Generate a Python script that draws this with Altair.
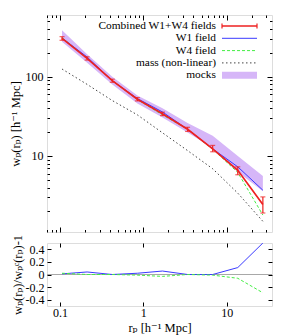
import altair as alt
import pandas as pd

FONT = "'Liberation Serif', 'Times New Roman', Times, 'DejaVu Serif', serif"

# ---------------- data ----------------
rp = [0.106, 0.212, 0.425, 0.85, 1.7, 3.4, 6.8, 13.6, 27.2]
combined = [304, 170, 89, 52, 34, 21.7, 12.3, 6.6, 2.45]
combined_lo = [288, 162, 85, 49.5, 32.3, 20.4, 11.3, 5.8, 1.91]
combined_hi = [320, 178, 93, 54.5, 35.7, 23.0, 13.6, 7.3, 3.05]
w1_field = [308, 177, 89, 53, 35.9, 21.7, 12.3, 7.3, 3.7]
w4_field = [310, 170, 89, 51.5, 33, 21.7, 12.2, 6.2, 1.8]
mass_nl = [125, 80, 50, 33, 19.6, 11.7, 6.9, 3.4, 1.5]
mocks_lo = [275, 150, 80, 46, 30.5, 19.8, 12.6, 6.3, 3.6]
mocks_hi = [385, 192, 100, 58, 40, 26, 18, 10, 5.6]
ratio_w1 = [0.01, 0.04, 0.0, 0.02, 0.055, 0.0, 0.0, 0.11, 0.5]
ratio_w4 = [0.02, 0.0, 0.0, -0.01, -0.03, 0.0, -0.01, -0.06, -0.29]

legend_labels = ["Combined W1+W4 fields", "W1 field", "W4 field",
                 "mass (non-linear)", "mocks"]

x_major = [0.1, 1, 10]
x_minor = [0.07, 0.08, 0.09, 0.2, 0.3, 0.4, 0.5, 0.6, 0.7, 0.8, 0.9,
           2, 3, 4, 5, 6, 7, 8, 9, 20, 30]
y_major = [10, 100]
y_minor = [2, 3, 4, 5, 6, 7, 8, 9, 20, 30, 40, 50, 60, 70, 80, 90,
           200, 300, 400, 500]
r_major = [-0.4, -0.2, 0, 0.2, 0.4]

df = pd.DataFrame(dict(rp=rp, comb=combined, lo=combined_lo, hi=combined_hi,
                       w1=w1_field, w4=w4_field, mass=mass_nl,
                       mlo=mocks_lo, mhi=mocks_hi,
                       rw1=ratio_w1, rw4=ratio_w4))

RED = "#ee2020"
BLUE = "#3a3aff"
GREEN = "#44ee44"
PURPLE = "#d6b6f8"
DOT = "#444444"

xs = alt.Scale(type="log", domain=[0.07, 35])
ys = alt.Scale(type="log", domain=[1.1, 600])
rs = alt.Scale(domain=[-0.5, 0.5], nice=False, zero=False)

MAJ = 5
MIN = 2.5


def ax(orient, values, size, labels=False, title=None, **kw):
    return alt.Axis(orient=orient, values=values, tickSize=size, offset=-size,
                    domain=False, grid=False, labels=labels, title=title,
                    ticks=True, tickColor="black", tickWidth=1,
                    labelFont=FONT, labelFontSize=12, labelColor="black",
                    labelOverlap=False, labelFlush=False,
                    titleFont=FONT, titleFontSize=12.5, titleColor="black",
                    titleFontWeight="normal", **kw)


base = alt.Chart(df)

# ---------------- top panel ----------------
band = base.mark_area(color=PURPLE, opacity=1, clip=True).encode(
    x=alt.X("rp:Q", scale=xs, axis=ax("bottom", x_major, MAJ)),
    y=alt.Y("mlo:Q", scale=ys,
            axis=ax("left", y_major, MAJ, labels=True,
                    title="wₚ(rₚ)   [h⁻¹ Mpc]", labelPadding=4, titlePadding=3)),
    y2="mhi:Q",
)
mass_line = base.mark_line(color=DOT, strokeWidth=1, strokeDash=[1.5, 2.5],
                           clip=True).encode(
    x=alt.X("rp:Q", scale=xs, axis=ax("bottom", x_minor, MIN)),
    y=alt.Y("mass:Q", scale=ys, axis=ax("left", y_minor, MIN)),
)
w1_line = base.mark_line(color=BLUE, strokeWidth=1, clip=True).encode(
    x=alt.X("rp:Q", scale=xs, axis=ax("top", x_major, MAJ)),
    y=alt.Y("w1:Q", scale=ys, axis=ax("right", y_major, MAJ)),
)
w4_line = base.mark_line(color=GREEN, strokeWidth=1, strokeDash=[3, 2],
                         clip=True).encode(
    x=alt.X("rp:Q", scale=xs, axis=ax("top", x_minor, MIN)),
    y=alt.Y("w4:Q", scale=ys, axis=ax("right", y_minor, MIN)),
)
comb_line = base.mark_line(color=RED, strokeWidth=1.7, clip=True).encode(
    x=alt.X("rp:Q", scale=xs, axis=None),
    y=alt.Y("comb:Q", scale=ys, axis=None),
)
err_bar = base.mark_rule(color=RED, strokeWidth=1.2, clip=True).encode(
    x=alt.X("rp:Q", scale=xs, axis=None),
    y=alt.Y("lo:Q", scale=ys, axis=None),
    y2="hi:Q",
)
cap_lo = base.mark_tick(color=RED, orient="horizontal", size=5, thickness=1.2,
                        clip=True).encode(
    x=alt.X("rp:Q", scale=xs, axis=None),
    y=alt.Y("lo:Q", scale=ys, axis=None),
)
cap_hi = base.mark_tick(color=RED, orient="horizontal", size=5, thickness=1.2,
                        clip=True).encode(
    x=alt.X("rp:Q", scale=xs, axis=None),
    y=alt.Y("hi:Q", scale=ys, axis=None),
)

# legend (drawn inside the top panel, labels left of the samples)
one = alt.Data(values=[{"k": 0}])
LX_TEXT, LX0, LX1, LY0, LDY = 169, 175, 210, 11, 12.3
leg = []
for i, lab in enumerate(legend_labels):
    yy = LY0 + i * LDY
    leg.append(alt.Chart(one).mark_text(
        text=lab, align="right", baseline="middle", font=FONT, fontSize=11.4,
        color="black").encode(x=alt.value(LX_TEXT), y=alt.value(yy)))
samples = [
    dict(color=RED, strokeWidth=1.7),
    dict(color=BLUE, strokeWidth=1),
    dict(color=GREEN, strokeWidth=1, strokeDash=[3, 2]),
    dict(color=DOT, strokeWidth=1, strokeDash=[1.5, 2.5]),
    dict(color=PURPLE, strokeWidth=7),
]
for i, st in enumerate(samples):
    yy = LY0 + i * LDY
    leg.append(alt.Chart(one).mark_rule(**st).encode(
        x=alt.value(LX0), x2=alt.value(LX1), y=alt.value(yy)))
for xx in (LX0, LX1):
    leg.append(alt.Chart(one).mark_rule(color=RED, strokeWidth=1.2).encode(
        x=alt.value(xx), y=alt.value(LY0 - 2.5), y2=alt.value(LY0 + 2.5)))

top = alt.layer(band, mass_line, w1_line, w4_line, comb_line, err_bar,
                cap_lo, cap_hi, *leg).resolve_axis(
    x="independent", y="independent").properties(width=225, height=217)

# ---------------- bottom panel ----------------
zero_line = base.mark_rule(color="#a8a8a8", strokeWidth=1.2).encode(
    y=alt.YDatum(0, scale=rs, axis=None))


def rlab():
    return ("datum.value == 0 ? '0' : (datum.value < 0 ? '-' + "
            "format(-datum.value, '.1f') : format(datum.value, '.1f'))")


rw1_line = base.mark_line(color=BLUE, strokeWidth=1, clip=True).encode(
    x=alt.X("rp:Q", scale=xs,
            axis=ax("bottom", x_major, 4, labels=True,
                    title="rₚ   [h⁻¹ Mpc]", labelPadding=1, titlePadding=3,
                    format="~g")),
    y=alt.Y("rw1:Q", scale=rs,
            axis=ax("left", r_major, 4, labels=True,
                    title="wₚ(rₚ)/wₚᶜ(rₚ)-1", labelPadding=3, titlePadding=1,
                    labelExpr=rlab())),
)
rw4_line = base.mark_line(color=GREEN, strokeWidth=1, strokeDash=[3, 2],
                          clip=True).encode(
    x=alt.X("rp:Q", scale=xs, axis=ax("top", x_major, 4)),
    y=alt.Y("rw4:Q", scale=rs, axis=ax("right", r_major, 4)),
)

bottom = alt.layer(zero_line, rw1_line, rw4_line).resolve_axis(
    x="independent", y="independent").properties(width=225, height=63)

chart = alt.vconcat(top, bottom, spacing=0).properties(
    padding={"left": 0, "top": 6, "right": 5, "bottom": 5}
).configure_view(stroke="black", strokeWidth=1.2).configure(
    background="white")

chart.save("out.html", embed_options={"renderer": "svg", "actions": False})
